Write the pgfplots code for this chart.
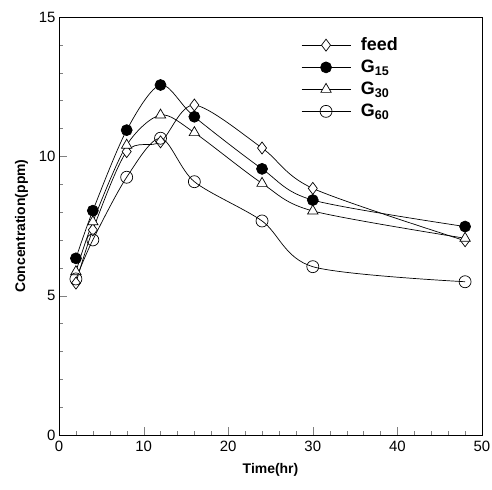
\documentclass[border=0pt]{standalone}
\usepackage{pgfplots}
\pgfplotsset{compat=1.18}
\usepackage{fontspec}
\setmainfont{Liberation Sans}
\begin{document}
\begin{tikzpicture}
\begin{axis}[name=ax,
  scale only axis, width=423bp, height=418bp,
  xmin=0, xmax=50, ymin=0, ymax=15,
  xtick={0,10,...,50}, ytick={0,5,10,15},
  minor x tick num=4, minor y tick num=4,
  tick pos=left, tick align=inside,
  major tick length=8bp, minor tick length=4bp,
  /pgf/number format/assume math mode=true,
  ticklabel style={font=\fontsize{15}{17}\selectfont},
  xticklabel style={yshift=-3bp},
  xlabel={\textbf{Time(hr)}}, ylabel={\textbf{Concentration(ppm)}},
  label style={font=\fontsize{14}{16}\selectfont},
  xlabel style={yshift=-4bp},
  ylabel style={yshift=4bp},
  every axis plot/.append style={black, line width=0.7bp, smooth, tension=0.5},
  legend cell align=left,
  legend style={draw=none, fill=none, at={(rel axis cs:0.565,0.96)}, anchor=north west,
    font=\fontsize{18}{20}\selectfont\bfseries, row sep=4bp,
    /tikz/every odd column/.append style={column sep=8bp}},
  legend image code/.code={\draw[mark repeat=2,mark phase=2] plot coordinates {(0bp,0bp)(24.5bp,0bp)(49bp,0bp)};},
]
\addplot[mark=diamond*, mark options={fill=white, mark size=6bp, solid}] coordinates {
  (2,5.45) (4,7.36) (8,10.17) (12,10.52) (16,11.84) (24,10.3) (30,8.85) (48,6.97)};
\addplot[mark=*, mark options={fill=black, mark size=5.5bp}] coordinates {
  (2,6.34) (4,8.05) (8,10.94) (12,12.56) (16,11.42) (24,9.55) (30,8.43) (48,7.48)};
\addplot[mark=triangle*, mark options={fill=white, mark size=6bp}] coordinates {
  (2,5.86) (4,7.65) (8,10.4) (12,11.48) (16,10.85) (24,9.03) (30,8.04) (48,7.06)};
\addplot[mark=o, mark options={mark size=6bp}] coordinates {
  (2,5.6) (4,7.0) (8,9.25) (12,10.65) (16,9.09) (24,7.68) (30,6.04) (48,5.5)};
\legend{feed, G\textsubscript{15}, G\textsubscript{30}, G\textsubscript{60}}
\end{axis}
\pgfresetboundingbox
\path ([shift={(-59bp,-55bp)}]ax.south west) rectangle ([shift={(10bp,17bp)}]ax.north east);
\end{tikzpicture}
\end{document}
